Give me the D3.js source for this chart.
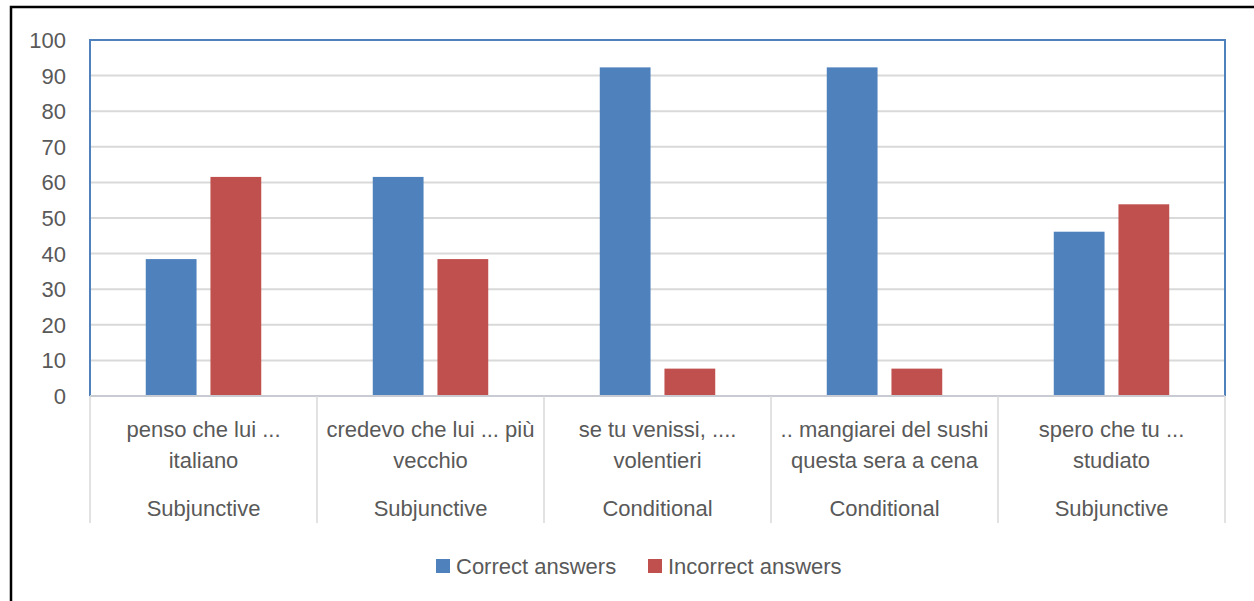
<!DOCTYPE html>
<html>
<head>
<meta charset="utf-8">
<script src="https://cdn.jsdelivr.net/npm/d3@7"></script>
<style>
  body { margin: 0; background: #fff; }
  text { font-family: "Liberation Sans", Arial, sans-serif; fill: #595959; font-size: 22px; }
</style>
</head>
<body>
<div id="chart"></div>
<script>
// data
const sentences = [
  ["penso che lui ...", "italiano"],
  ["credevo che lui ... più", "vecchio"],
  ["se tu venissi, ....", "volentieri"],
  [".. mangiarei del sushi", "questa sera a cena"],
  ["spero che tu ...", "studiato"]
];
const moods = ["Subjunctive", "Subjunctive", "Conditional", "Conditional", "Subjunctive"];
const seriesNames = ["Correct answers", "Incorrect answers"];
const correct = [38.46, 61.54, 92.31, 92.31, 46.15];
const incorrect = [61.54, 38.46, 7.69, 7.69, 53.85];
const yTicks = [0, 10, 20, 30, 40, 50, 60, 70, 80, 90, 100];
const colors = ["#4F81BD", "#C0504D"];

const W = 1254, H = 601;
const plot = { left: 90, right: 1225, top: 40, bottom: 396 };

const svg = d3.select("#chart").append("svg")
    .attr("width", W)
    .attr("height", H);

// outer frame
svg.append("rect")
    .attr("x", 11).attr("y", 7)
    .attr("width", W + 20).attr("height", H + 20)
    .attr("fill", "none")
    .attr("stroke", "#000")
    .attr("stroke-width", 2.5);

const x = d3.scaleBand()
    .domain(d3.range(sentences.length))
    .range([plot.left, plot.right])
    .paddingInner(0).paddingOuter(0);

const x1 = d3.scaleBand()
    .domain([0, 1])
    .range([0, x.bandwidth()])
    .paddingInner(0.215)
    .paddingOuter(0.862);

const y = d3.scaleLinear().domain([0, 100]).range([plot.bottom, plot.top]);

// gridlines
svg.append("g")
  .selectAll("line")
  .data(yTicks.filter(t => t > 0 && t < 100))
  .join("line")
    .attr("x1", plot.left).attr("x2", plot.right)
    .attr("y1", d => y(d)).attr("y2", d => y(d))
    .attr("stroke", "#d9d9d9")
    .attr("stroke-width", 2);

// y tick labels
svg.append("g")
  .selectAll("text")
  .data(yTicks)
  .join("text")
    .attr("x", 66)
    .attr("y", d => y(d))
    .attr("dy", "0.36em")
    .attr("text-anchor", "end")
    .text(d => d);

// bars
const series = [correct, incorrect];
series.forEach((vals, s) => {
  svg.append("g")
    .selectAll("rect")
    .data(vals)
    .join("rect")
      .attr("x", (d, i) => x(i) + x1(s))
      .attr("y", d => y(d))
      .attr("width", x1.bandwidth())
      .attr("height", d => y(0) - y(d))
      .attr("fill", colors[s]);
});

// plot frame (left, top, right in blue)
svg.append("path")
    .attr("d", `M${plot.left},${plot.bottom}V${plot.top}H${plot.right}V${plot.bottom}`)
    .attr("fill", "none")
    .attr("stroke", "#4F81BD")
    .attr("stroke-width", 2);

// category axis line and separators
svg.append("line")
    .attr("x1", plot.left).attr("x2", plot.right)
    .attr("y1", plot.bottom).attr("y2", plot.bottom)
    .attr("stroke", "#c8ccd2").attr("stroke-width", 2);

const bounds = d3.range(sentences.length + 1).map(i => plot.left + i * x.bandwidth());
svg.append("g")
  .selectAll("line")
  .data(bounds)
  .join("line")
    .attr("x1", d => d).attr("x2", d => d)
    .attr("y1", plot.bottom).attr("y2", 523)
    .attr("stroke", "#d9d9d9").attr("stroke-width", 1.5);

// category labels
const cat = svg.append("g")
  .selectAll("g")
  .data(sentences)
  .join("g")
    .attr("transform", (d, i) => `translate(${x(i) + x.bandwidth() / 2},0)`);

cat.append("text")
    .attr("y", 437)
    .attr("text-anchor", "middle")
    .text(d => d[0]);
cat.append("text")
    .attr("y", 468)
    .attr("text-anchor", "middle")
    .text(d => d[1]);
cat.append("text")
    .attr("y", 516)
    .attr("text-anchor", "middle")
    .text((d, i) => moods[i]);

// legend
const legendX = [436, 648];
const legend = svg.append("g")
  .selectAll("g")
  .data(seriesNames)
  .join("g")
    .attr("transform", (d, i) => `translate(${legendX[i]},0)`);
legend.append("rect")
    .attr("x", 0).attr("y", 559)
    .attr("width", 14).attr("height", 14)
    .attr("fill", (d, i) => colors[i]);
legend.append("text")
    .attr("x", 20).attr("y", 574)
    .text(d => d);
</script>
</body>
</html>
